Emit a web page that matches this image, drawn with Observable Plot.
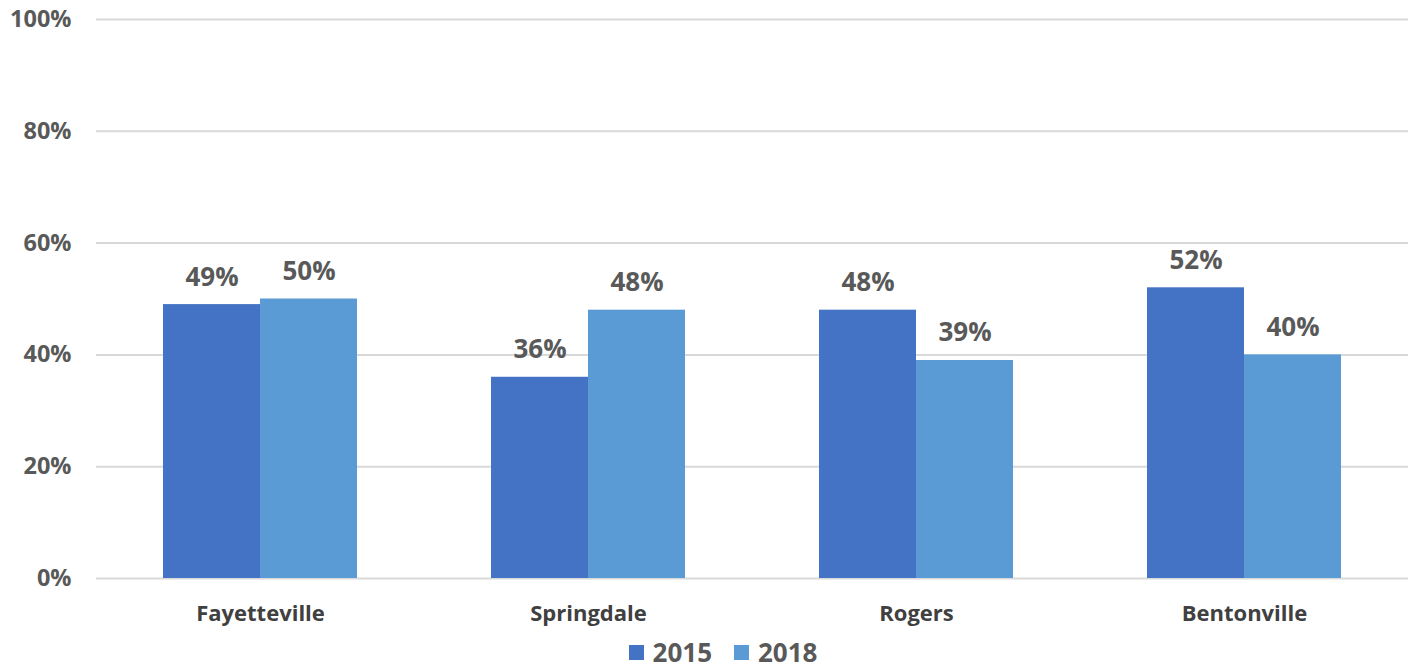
<!DOCTYPE html>
<html><head><meta charset="utf-8">
<script src="https://cdn.jsdelivr.net/npm/d3@7"></script>
<script src="https://cdn.jsdelivr.net/npm/@observablehq/plot@0.6"></script>
<style>
body{margin:0;background:#fff;font-family:"Open Sans",sans-serif;overflow:hidden;}
#legend{display:flex;justify-content:center;margin-top:4px;padding-left:30px;}
.lg-swatches{justify-content:center;margin:0 !important;min-height:0 !important;line-height:1 !important;}
.lg-swatch{margin-right:22px !important;}
.lg-swatch:last-child{margin-right:0 !important;}
.lg-swatch > svg{margin-right:9px !important;}
</style></head><body><div id="chart"></div><div id="legend"></div><script>
const cities = ["Fayetteville","Springdale","Rogers","Bentonville"];
const years = ["2015","2018"];
const values2015 = [49,36,48,52];
const values2018 = [50,48,39,40];
const yTicks = [0,20,40,60,80,100];
const colors = ["#4472C4","#5B9BD5"];

const data = cities.flatMap((c,i)=>[
  {city:c,year:years[0],value:values2015[i]},
  {city:c,year:years[1],value:values2018[i]}
]);

const chart = Plot.plot({
  width:1416, height:635,
  marginLeft:95, marginRight:8, marginTop:19, marginBottom:57,
  style:{fontFamily:"'Open Sans', sans-serif", fontWeight:"bold", color:"#595959", background:"white", display:"block"},
  fx:{domain:cities, padding:0, label:null},
  x:{domain:years, paddingInner:0, paddingOuter:0.68, axis:null},
  y:{domain:[0,100], label:null},
  color:{domain:years, range:colors},
  marks:[
    Plot.ruleY(yTicks,{stroke:"#D9D9D9", strokeWidth:2}),
    Plot.barY(data,{fx:"city", x:"year", y:"value", fill:"year"}),
    Plot.text(data,{fx:"city", x:"year", y:"value", text:d=>d.value+"%", dy:-19, lineAnchor:"bottom", fontSize:26, fontWeight:"bold", fill:"#595959"}),
    Plot.axisY({ticks:yTicks, tickFormat:d=>d+"%", tickSize:0, tickPadding:25, fontSize:23.5, fontWeight:"bold", fill:"#595959", label:null}),
    Plot.axisFx({anchor:"bottom", tickSize:0, tickPadding:27, fontSize:22, fontWeight:"bold", fill:"#404040", label:null})
  ]
});
document.getElementById("chart").appendChild(chart);

const leg = Plot.legend({
  color:{domain:years, range:colors},
  legend:"swatches", swatchSize:15, className:"lg",
  style:{fontFamily:"'Open Sans', sans-serif", fontWeight:"bold", fontSize:"26px", color:"#595959"}
});
document.getElementById("legend").appendChild(leg);
</script></body></html>
